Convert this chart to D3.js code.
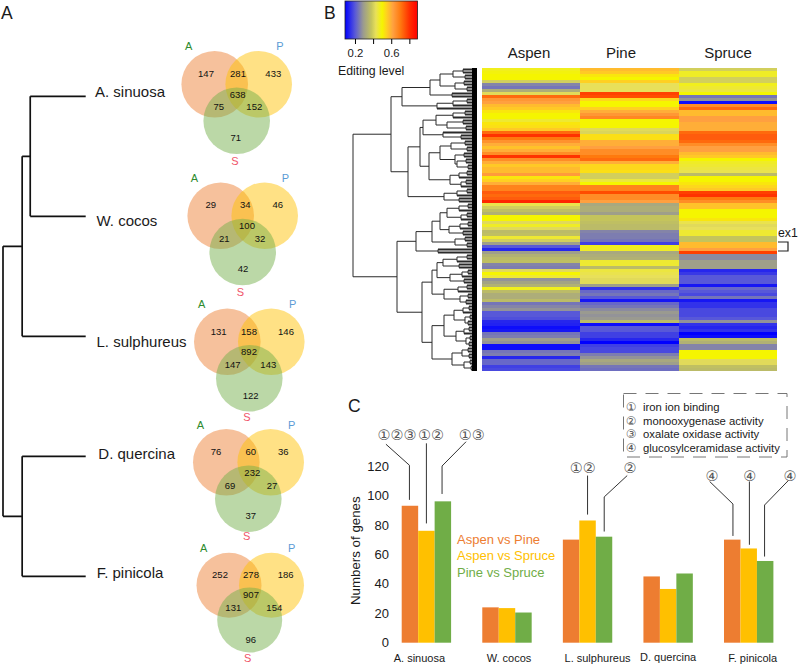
<!DOCTYPE html>
<html><head><meta charset="utf-8">
<script src="https://cdn.jsdelivr.net/npm/d3@7"></script>
<style>
html,body{margin:0;padding:0;background:#fff}
svg{display:block}
text{font-family:"Liberation Sans",Arial,sans-serif;fill:#1a1a1a}
</style></head><body>
<svg id="c" width="798" height="665"></svg>
<script>
// ---------- data ----------
const species = ["A. sinuosa","W. cocos","L. sulphureus","D. quercina","F. pinicola"];
// species tree: [height, left, right]; leaves are species indices
const speciesTree = [82,[63,[55,0,1],2],[63,3,4]];
// venn counts: A only, A&P, P only, A&P&S, A&S, P&S, S only
const vennA = [147,29,131,76,252];
const vennAP = [281,34,158,60,278];
const vennP = [433,46,146,36,186];
const vennAPS = [638,100,892,232,907];
const vennAS = [75,21,147,69,131];
const vennPS = [152,32,143,27,154];
const vennS = [71,42,122,37,96];

const heatColumns = ["Aspen","Pine","Spruce"];
const aspen = [.48,.49,.5,.5,.4,.26,.24,.33,.42,.72,.64,.62,.58,.56,.52,.5,.5,.46,.52,.53,.56,.72,.8,.7,.65,.6,.57,.6,.66,.8,.66,.6,.56,.58,.58,.63,.52,.55,.6,.68,.68,.74,.72,.74,.82,.44,.4,.37,.34,.5,.5,.42,.47,.42,.36,.37,.46,.4,.3,.2,.14,.3,.34,.36,.37,.26,.25,.42,.5,.46,.28,.31,.34,.48,.36,.33,.33,.36,.24,.26,.28,.2,.2,.19,.14,.13,.1,.12,.24,.25,.3,.28,.1,.1,.24,.25,.14,.22,.22,.17,.18];
const pine = [.58,.56,.52,.5,.55,.43,.43,.43,.78,.76,.54,.5,.5,.55,.6,.64,.67,.5,.5,.5,.42,.41,.53,.53,.6,.6,.62,.66,.66,.7,.72,.6,.54,.54,.53,.4,.4,.45,.5,.68,.68,.76,.66,.66,.62,.32,.33,.33,.3,.38,.38,.37,.36,.36,.26,.25,.25,.24,.17,.48,.47,.32,.33,.34,.46,.46,.36,.45,.44,.43,.42,.42,.3,.15,.22,.24,.2,.12,.22,.24,.27,.29,.28,.29,.36,.1,.2,.2,.17,.17,.14,.09,.17,.18,.18,.25,.28,.32,.3,.24,.23];
const spruce = [.4,.47,.47,.4,.4,.48,.46,.45,.5,.24,.28,.1,.66,.72,.58,.58,.62,.62,.6,.6,.6,.72,.74,.74,.72,.66,.62,.62,.58,.56,.5,.47,.46,.45,.44,.36,.5,.5,.52,.54,.56,.78,.8,.7,.66,.57,.57,.5,.5,.5,.52,.44,.42,.43,.46,.46,.38,.38,.58,.58,.62,.78,.27,.27,.3,.3,.3,.14,.16,.2,.2,.2,.12,.22,.2,.18,.24,.12,.15,.15,.18,.18,.18,.2,.28,.15,.14,.15,.09,.1,.36,.34,.26,.26,.5,.5,.5,.42,.42,.37,.36];
// row dendrogram: [height, left, right]; leaves are heat-map row indices
const rowTree = [124,
 [86,
  [75,
   [47,[37,[24,[14,0,1],[12,2,3]],[22,[13,4,5],[10,6,7]]],[25,8,9]],
   [40,[24,[10,10,11],12],13]],
  [69,
   [57,
    [54,[41,[24,[12,14,15],16],[30,[14,17,18],[11,19,20]]],[34,21,[16,22,23]]],
    [48,[37,[26,[12,24,25],[10,26,27]],[22,[13,28,29],[20,[11,30,31],[9,32,33]]]],[27,[18,[10,34,35],36],[16,[11,37,38],39]]]],
   [33,[20,[10,40,41],42],[18,43,44]]]],
 [80,
  [61,
   [45,[37,[30,[18,[9,45,46],47],[16,[10,48,49],50]],[28,[17,[9,51,52],53],[14,54,55]]],[22,[12,56,57],[10,58,59]]],
   [39,60,61]],
  [55,
   [45,
    [40,[34,[20,[10,62,63],64],[18,65,66]],[27,[15,[9,67,68],69],[13,70,71]]],
    [33,[19,[10,72,73],74],[17,[9,75,76],[11,77,78]]]],
   [45,
    [33,[23,[14,[8,79,80],81],[12,[7,82,83],[9,84,85]]],[21,[13,[8,86,87],88],[11,[7,89,90],[8,91,92]]]],
    [25,[15,[9,93,94],[8,95,96]],[13,[7,97,98],[6,99,100]]]]]]];

const barSeries = ["Aspen vs Pine","Aspen vs Spruce","Pine vs Spruce"];
const aspenVsPine = [93,24,70,45,70];
const aspenVsSpruce = [76,23.5,83,36.5,64];
const pineVsSpruce = [96,20.5,72,47,55.5];
const yTicks = [0,20,40,60,80,100,120];
const goTerms = ["iron ion binding","monooxygenase activity","oxalate oxidase activity","glucosylceramidase activity"];
const goMarks = ["①","②","③","④"];
const barMarks = [["①②③","①②","①③"],[],["","①②","②"],[],["④","④","④"]];

// ---------- layout ----------
const svg = d3.select("#c");
const palette = ["#ED7D31","#FFC000","#70AD47"];
function txt(x,y,s,size,o={}){
  return svg.append("text").attr("x",x).attr("y",y).attr("dy",".35em")
    .attr("font-size",size).attr("text-anchor",o.a||"start")
    .style("fill",o.c||"#1a1a1a").style("font-family",o.f||null).text(s);
}
function treeNodes(t){return d3.hierarchy(t,d=>Array.isArray(d)?d.slice(1):null);}
function drawTree(t,xs,ys,stroke,w,leafW){
  const root=treeNodes(t);
  root.eachAfter(n=>{
    if(n.children){n.h=n.data[0];n.py=d3.mean(n.children,c=>c.py);}
    else{n.h=0;n.py=ys(n.data);}
  });
  const p=d3.path(), q=d3.path();
  root.each(n=>{ if(!n.children) return;
    const x=xs(n.h);
    p.moveTo(x,n.children[0].py);p.lineTo(x,n.children[1].py);
    n.children.forEach(c=>{
      const t=c.children?p:q;
      t.moveTo(x,c.py);t.lineTo(xs(c.h),c.py);
    });
  });
  svg.append("path").attr("d",p.toString()).attr("fill","none").attr("stroke",stroke).attr("stroke-width",w);
  svg.append("path").attr("d",q.toString()).attr("fill","none").attr("stroke",stroke).attr("stroke-width",leafW||w);
}
// panel letters
txt(1,13,"A",17.5); txt(324,13,"B",17.5); txt(348,406,"C",17.5);

// ---------- panel A ----------
const sy = d3.scalePoint().domain(d3.range(5)).range([96.3,576.3]);
const sx = d3.scaleLinear().domain([82,0]).range([3,85.7]);
drawTree(speciesTree,sx,i=>sy(i),"#111",1.7);
const speciesPos=[[95,92],[96.5,220.7],[96.5,342],[98.3,453.3],[96.7,573]];
species.forEach((s,i)=>txt(speciesPos[i][0],speciesPos[i][1],s,15));

const vennGeom=[
 {c:[[214.7,84.3],[258.7,84.3],[236.7,120.7]],r:33.3,
  t:[[206,73.3],[238,73.3],[273.3,73.7],[237.7,94.7],[218.7,107],[254.3,107],[235.7,138]],l:[[188.7,46],[280,46],[235,161]]},
 {c:[[220.7,215.7],[264.7,215.7],[242.7,252]],r:33.3,
  t:[[210.7,204.3],[245.3,204.3],[277.7,204.3],[247,226],[224.3,238.3],[260,238.3],[243,268.7]],l:[[194.3,178],[285.3,177.7],[240.3,291.7]]},
 {c:[[227.3,341.7],[271.3,341.7],[249.3,378.3]],r:33.3,
  t:[[218.7,331.7],[249,331.7],[286,331.7],[249,352],[232.7,364.7],[268.3,364.7],[250.7,395.3]],l:[[201.7,303.7],[292.7,303.7],[247,417.3]]},
 {c:[[226.3,462.3],[270.7,462.3],[248.3,498.7]],r:33.3,
  t:[[216,451.7],[250.7,451.7],[283.3,451.7],[252.3,472.7],[230,485.3],[272,485.3],[250.7,515.7]],l:[[200.3,425],[291.7,425],[246.7,535.7]]},
 {c:[[229,585.3],[271.5,585.3],[249.7,620]],r:32.5,
  t:[[220,574.7],[251,574.7],[285.7,574.7],[251,595],[233.3,607.3],[274.3,607.3],[250.7,640]],l:[[203.7,548.3],[291.7,548.3],[247.7,658.3]]}
];
const vennLetters=[["A","#2E8B2E"],["P","#5B9BD5"],["S","#F0566A"]];
species.forEach((s,i)=>{
  const g=vennGeom[i];
  const vals=[vennA[i],vennAP[i],vennP[i],vennAPS[i],vennAS[i],vennPS[i],vennS[i]];
  g.c.forEach((c,k)=>svg.append("circle").attr("cx",c[0]).attr("cy",c[1]).attr("r",g.r)
     .attr("fill",palette[k]).attr("fill-opacity",.48));
  vals.forEach((v,k)=>txt(g.t[k][0],g.t[k][1],v,9.5,{a:"middle",c:"#111"}));
  vennLetters.forEach((l,k)=>txt(g.l[k][0],g.l[k][1],l[0],11,{a:"middle",c:l[1]}));
});

// ---------- panel B ----------
const heatColor=d3.scaleLinear()
  .domain([.09,.2,.29,.38,.43,.5,.55,.62,.7,.8,.89])
  .range(["#0000ff","#5858d8","#9a9a90","#c4c45c","#e8e05a","#f5f500","#ffd020","#ffa040","#ff7a10","#ff3000","#ff0000"]);
const rows=d3.range(aspen.length);
const hx=d3.scaleBand().domain(heatColumns).range([482,777]);
const hy=d3.scaleBand().domain(rows).range([68,371]);
const defs=svg.append("defs");
const blur=defs.append("filter").attr("id","vb").attr("x","0").attr("width","1").attr("y","0").attr("height","1");
blur.append("feGaussianBlur").attr("stdDeviation","0 0.45").attr("edgeMode","duplicate");
[aspen,pine,spruce].forEach((col,j)=>{
  svg.append("g").attr("filter","url(#vb)").selectAll("rect").data(col).join("rect")
   .attr("shape-rendering","crispEdges")
   .attr("x",hx(heatColumns[j])).attr("width",hx.bandwidth())
   .attr("y",(d,i)=>hy(i)).attr("height",hy.bandwidth())
   .attr("fill",d=>heatColor(d));
});
const labelX=[529,621,728];
heatColumns.forEach((c,i)=>txt(labelX[i],53,c,15,{a:"middle"}));
// dendrogram
const dx=d3.scaleLinear().domain([124,0]).range([353,477]);
drawTree(rowTree,dx,i=>hy(i)+hy.bandwidth()/2,"#2a2a2a",1,2.2);
svg.append("rect").attr("x",472).attr("y",68).attr("width",5).attr("height",303).attr("fill","#000");
// colour key
const ck=d3.scaleLinear().domain([.09,.89]).range([345,417.5]);
const grad=defs.append("linearGradient").attr("id","ck");
heatColor.domain().forEach(v=>grad.append("stop")
  .attr("offset",(v-.09)/.8).attr("stop-color",heatColor(v)));
svg.append("rect").attr("x",345).attr("y",1).attr("width",72.5).attr("height",38)
  .attr("fill","url(#ck)").attr("stroke","#222").attr("stroke-width",.8);
const ckAxis=d3.axisBottom(ck).tickValues([.2,.4,.6,.8]).tickSize(5).tickPadding(5)
  .tickFormat(v=>(v===.2||v===.6)?v.toFixed(1):"");
const ckg=svg.append("g").attr("transform","translate(0,39)").call(ckAxis);
ckg.select(".domain").remove();
ckg.selectAll("text").attr("font-size",11.3).style("font-family",null);
txt(338,71,"Editing level",12.3);
txt(778,233,"ex1",12.3);
svg.append("path").attr("d",d3.line()([[778,242],[788,242],[788,251],[778,251]]))
  .attr("fill","none").attr("stroke","#222").attr("stroke-width",1.2);

// ---------- panel C ----------
const cx=d3.scaleBand().domain(species).range([401.7,773.4]).paddingInner(.387).paddingOuter(0);
const cs=d3.scaleBand().domain(barSeries).range([0,cx.bandwidth()]);
const cy=d3.scaleLinear().domain([0,120]).range([642.7,466]);
[aspenVsPine,aspenVsSpruce,pineVsSpruce].forEach((vals,k)=>{
  svg.append("g").selectAll("rect").data(vals).join("rect")
    .attr("x",(d,i)=>cx(species[i])+cs(barSeries[k])).attr("width",cs.bandwidth())
    .attr("y",d=>cy(d)).attr("height",d=>cy(0)-cy(d)).attr("fill",palette[k]);
});
const yAxis=d3.axisLeft(cy).tickValues(yTicks).tickSize(0).tickPadding(0);
const yg=svg.append("g").attr("transform","translate(389,0)").call(yAxis);
yg.select(".domain").remove();
yg.selectAll("text").attr("font-size",13).style("font-family",null).style("fill","#1a1a1a");
svg.append("text").attr("transform","translate(355,550.7) rotate(-90)").attr("dy",".35em")
  .attr("text-anchor","middle").attr("font-size",13.3).text("Numbers of genes");
const xLabelDx=[-7,2,10,0,4], xLabelY=[658,658,658,657,658];
species.forEach((s,i)=>txt(cx(s)+cx.bandwidth()/2+xLabelDx[i],xLabelY[i],s,11,{a:"middle"}));
const legY=[539,555.7,572];
barSeries.forEach((s,i)=>txt(457,legY[i],s,13,{c:palette[i]}));
// leader lines: [species, series, points as [dx from bar centre, value]]
const leaders=[
 [0,0,[[-24,134.8],[-.5,120.5],[-.5,97]]],
 [0,1,[[0,135.4],[0,81]]],
 [0,2,[[23.2,136.5],[-.8,120],[-.8,101]]],
 [2,1,[[0,113.5],[0,87]]],
 [2,2,[[23.2,113.5],[.2,99],[.2,75.5]]],
 [4,0,[[-22.6,109.5],[.7,94.2],[.7,72.5]]],
 [4,1,[[.7,109.5],[.7,66.5]]],
 [4,2,[[23,110],[-.6,93.5],[-.6,58.5]]]
];
leaders.forEach(([g,k,pts])=>{
  const c=cx(species[g])+cs(barSeries[k])+cs.bandwidth()/2;
  svg.append("path").attr("d",d3.line()(pts.map(p=>[c+p[0],cy(p[1])])))
    .attr("fill","none").attr("stroke","#333").attr("stroke-width",1);
});
const markPos=[[[397,435],[431,435],[471.7,435]],[],[[0,0],[582.7,467.7],[630,467.7]],[],[[712,476],[749.7,476],[790,476]]];
const dj='"DejaVu Sans",sans-serif';
barMarks.forEach((m,g)=>m.forEach((s,k)=>{ if(s) txt(markPos[g][k][0],markPos[g][k][1],s,14.5,{a:"middle",c:"#555",f:dj}); }));
// GO legend box
svg.append("rect").attr("x",623.5).attr("y",393.5).attr("width",163.5).attr("height",63.5)
  .attr("fill","none").attr("stroke","#666").attr("stroke-width",.9).attr("stroke-dasharray","13 9");
const goY=[406.7,420.7,434.3,448.3];
goTerms.forEach((t,i)=>{
  txt(631,goY[i],goMarks[i],11.8,{a:"middle",c:"#555",f:dj});
  txt(643,goY[i],t,11.3);
});
</script></body></html>
